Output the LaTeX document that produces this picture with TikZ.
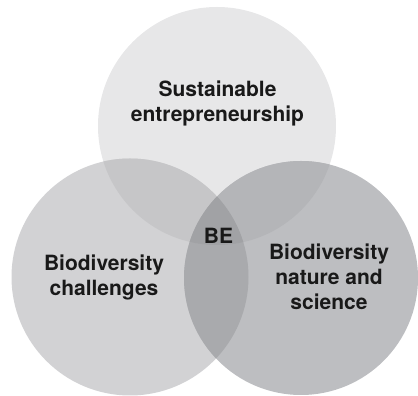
\documentclass[tikz,border=0pt]{standalone}
\usepackage{fontspec}
\setsansfont{TeX Gyre Heros}
\definecolor{topgray}{HTML}{E7E7E8}
\definecolor{leftgray}{HTML}{D2D2D4}
\definecolor{rightgray}{HTML}{BDBEC1}
\definecolor{tlgray}{HTML}{C6C6C8}
\definecolor{trgray}{HTML}{B4B5B8}
\definecolor{lrgray}{HTML}{A9AAAD}
\definecolor{begray}{HTML}{A1A2A5}
\tikzset{
	setlabel/.style={align=center,font=\sffamily\bfseries\fontsize{21}{25}\selectfont,text=black!90},
}
\begin{document}
\begin{tikzpicture}[x=1pt,y=1pt]
	\useasboundingbox (0,0) rectangle (418,396);
	\coordinate (sust) at (217,270);
	\coordinate (chal) at (130,119);
	\coordinate (nat) at (301,118);
	% single sets
	\fill[topgray] (sust) circle (119);
	\fill[leftgray] (chal) circle (118.5);
	\fill[rightgray] (nat) circle (117);
	% pairwise overlaps
	\begin{scope}
		\clip (sust) circle (119);
		\fill[tlgray] (chal) circle (118.5);
		\fill[trgray] (nat) circle (117);
	\end{scope}
	\begin{scope}
		\clip (chal) circle (118.5);
		\fill[lrgray] (nat) circle (117);
		\clip (sust) circle (119);
		\fill[begray] (nat) circle (117);
	\end{scope}
	% labels
	\node[setlabel] (susttext) at (217.5,293) {Sustainable\\entrepreneurship};
	\node[setlabel] (betext) at (218.5,160) {BE};
	\node[setlabel] (chaltext) at (104,119) {Biodiversity\\challenges};
	\node[setlabel] (nattext) at (329,119) {Biodiversity\\nature and\\science};
\end{tikzpicture}
\end{document}
